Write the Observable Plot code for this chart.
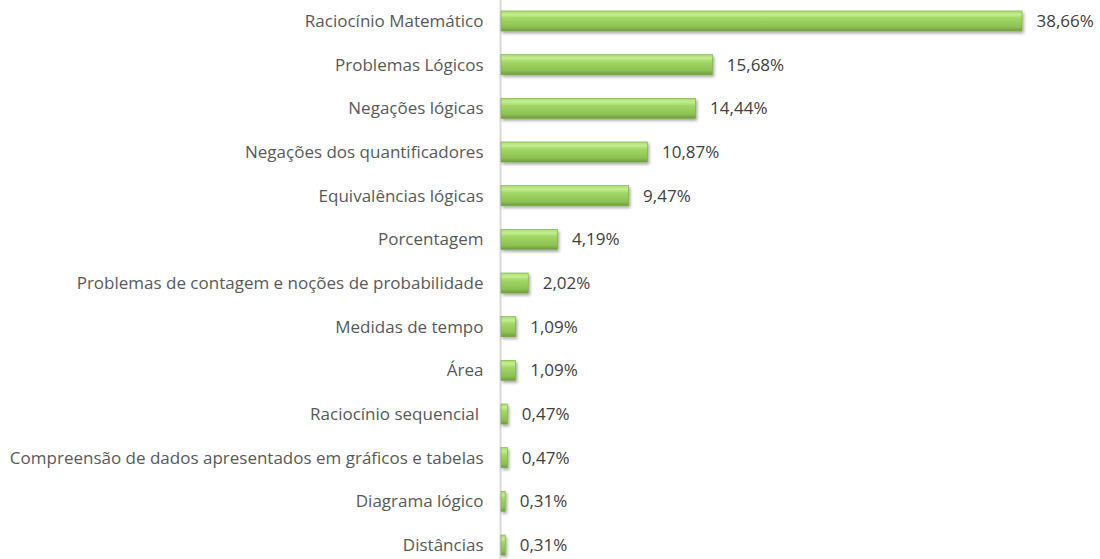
<!DOCTYPE html>
<html>
<head>
<meta charset="utf-8">
<script src="https://cdn.jsdelivr.net/npm/d3@7"></script>
<script src="https://cdn.jsdelivr.net/npm/@observablehq/plot@0.6"></script>
<style>
  html, body { margin: 0; padding: 0; background: #fff; }
  #chart { width: 1100px; height: 559px; overflow: hidden; }
</style>
</head>
<body>
<div id="chart"></div>
<script>
const categories = [
  "Raciocínio Matemático",
  "Problemas Lógicos",
  "Negações lógicas",
  "Negações dos quantificadores",
  "Equivalências lógicas",
  "Porcentagem",
  "Problemas de contagem e noções de probabilidade",
  "Medidas de tempo",
  "Área",
  "Raciocínio sequencial ",
  "Compreensão de dados apresentados em gráficos e tabelas",
  "Diagrama lógico",
  "Distâncias"
];
const values = [38.66, 15.68, 14.44, 10.87, 9.47, 4.19, 2.02, 1.09, 1.09, 0.47, 0.47, 0.31, 0.31];
const valueLabels = ["38,66%", "15,68%", "14,44%", "10,87%", "9,47%", "4,19%", "2,02%", "1,09%", "1,09%", "0,47%", "0,47%", "0,31%", "0,31%"];

const data = categories.map((c, i) => ({cat: c, value: values[i], label: valueLabels[i]}));
const font = "'Open Sans', sans-serif";

const chart = Plot.plot({
  width: 1100,
  height: 559,
  marginLeft: 501,
  marginRight: 78,
  marginTop: 0,
  marginBottom: 0,
  style: {fontFamily: font, background: "#fff", overflow: "visible"},
  x: {domain: [0, 38.66], axis: null},
  y: {domain: categories, range: [-0.83, 566.9], paddingInner: 0.54, paddingOuter: 0.27, round: false, axis: null},
  marks: [
    Plot.ruleX([0], {stroke: "#d9d9d9", strokeWidth: 2, dx: -1}),
    Plot.barX(data, {
      x: "value", y: "cat",
      fill: "url(#barGrad)",
      stroke: "#79a843", strokeWidth: 0.6
    }),
    Plot.text(data, {
      x: 0, y: "cat", text: "cat",
      textAnchor: "end", dx: -18,
      fontSize: 17, fill: "#595959"
    }),
    Plot.text(data, {
      x: "value", y: "cat", text: "label",
      textAnchor: "start", dx: 14,
      fontSize: 17, fill: "#404040"
    })
  ]
});

const ns = "http://www.w3.org/2000/svg";
const defs = document.createElementNS(ns, "defs");
defs.innerHTML = `
  <linearGradient id="barGrad" x1="0" y1="0" x2="0" y2="1">
    <stop offset="0" stop-color="#a9dc6e"/>
    <stop offset="0.18" stop-color="#c4ee90"/>
    <stop offset="0.35" stop-color="#a2d966"/>
    <stop offset="0.8" stop-color="#8cc152"/>
    <stop offset="1" stop-color="#6c9c3b"/>
  </linearGradient>
  <filter id="barShadow" x="-5%" y="-20%" width="115%" height="160%">
    <feDropShadow dx="1.5" dy="2" stdDeviation="1.5" flood-color="#000" flood-opacity="0.35"/>
  </filter>`;
chart.insertBefore(defs, chart.firstChild);
chart.querySelectorAll("g[aria-label='bar']").forEach(g => g.setAttribute("filter", "url(#barShadow)"));

document.getElementById("chart").appendChild(chart);
</script>
</body>
</html>
